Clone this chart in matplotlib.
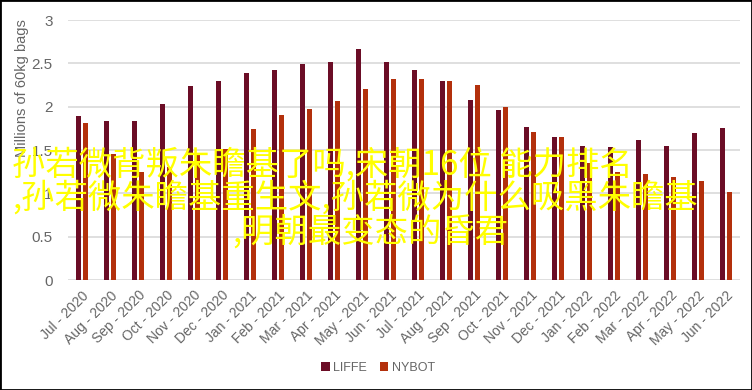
import matplotlib
matplotlib.use("Agg")
import matplotlib.pyplot as plt
import numpy as np
from matplotlib.patches import Rectangle

months = ["Jul - 2020", "Aug - 2020", "Sep - 2020", "Oct - 2020", "Nov - 2020", "Dec - 2020",
          "Jan - 2021", "Feb - 2021", "Mar - 2021", "Apr - 2021", "May - 2021", "Jun - 2021",
          "Jul - 2021", "Aug - 2021", "Sep - 2021", "Oct - 2021", "Nov - 2021", "Dec - 2021",
          "Jan - 2022", "Feb - 2022", "Mar - 2022", "Apr - 2022", "May - 2022", "Jun - 2022"]
liffe = [1.89, 1.84, 1.84, 2.03, 2.24, 2.30, 2.39, 2.42, 2.49, 2.52, 2.66, 2.52,
         2.42, 2.30, 2.08, 1.96, 1.77, 1.65, 1.55, 1.53, 1.62, 1.55, 1.70, 1.75]
nybot = [1.81, 1.45, 1.25, 1.30, 1.45, 1.51, 1.74, 1.90, 1.97, 2.07, 2.20, 2.32,
         2.32, 2.30, 2.25, 2.00, 1.71, 1.65, 1.35, 1.25, 1.22, 1.19, 1.14, 1.02]
yticks = [0, 0.5, 1, 1.5, 2, 2.5, 3]
overlay_lines = ["孙若微背叛朱瞻基了吗,宋朝16位 能力排名",
                 ",孙若微朱瞻基重生文,孙若微为什么吸黑朱瞻基",
                 ",明朝最变态的昏君"]

c_liffe = "#6B0D26"
c_nybot = "#B3300C"
gray = "#666666"
plt.rcParams['font.family'] = ['Liberation Sans', 'DejaVu Sans']

fig = plt.figure(figsize=(7.52, 3.9), dpi=100)
W, H = 752, 390
ax = fig.add_axes([68 / W, 1 - 280 / H, (740 - 68) / W, (280 - 20) / H])

x = np.arange(len(months))
bw = 0.21
ax.bar(x - 0.125, liffe, width=bw, color=c_liffe, label="LIFFE", zorder=3)
ax.bar(x + 0.125, nybot, width=bw, color=c_nybot, label="NYBOT", zorder=3)

ax.set_xlim(-0.5, len(months) - 0.5)
ax.set_ylim(0, 3)
ax.set_yticks(yticks)
ax.set_yticklabels([f"{v:g}" for v in yticks])
ax.yaxis.grid(True, color="#D9D9D9", linewidth=1.2, zorder=0)
ax.set_axisbelow(True)
for s in ax.spines.values():
    s.set_visible(False)
ax.tick_params(axis="both", length=0, colors=gray)
ax.tick_params(axis="y", pad=11, labelsize=11)
ax.set_xticks(x)
ax.set_xticklabels(months, rotation=45, ha="right", rotation_mode="anchor", fontsize=10, color=gray)
ax.tick_params(axis="x", pad=6)

fig.text(22 / W, 1 - 88 / H, "Millions of 60kg bags", rotation=90, va="center", ha="center",
         fontsize=10.5, color=gray)

# legend
leg = fig.legend(loc="center", bbox_to_anchor=(378 / W, 1 - 368 / H), ncol=2, frameon=False,
                 fontsize=9, handlelength=0.7, handleheight=0.7, handletextpad=0.3, columnspacing=1.0)
for t in leg.get_texts():
    t.set_color(gray)

# overlay text
ys = [165, 198, 232]
xs = [12, 12, 232]
for line, yy, xx in zip(overlay_lines, ys, xs):
    fig.text(xx / W, 1 - yy / H, line, fontsize=24, color="#FFFF00", va="center", ha="left",
             family=["Noto Sans CJK SC", "DejaVu Sans"], weight="medium", zorder=10)

fig.patches.append(Rectangle((0, 0), 1, 1, transform=fig.transFigure, fill=False,
                             edgecolor="black", linewidth=2, zorder=20))
fig.savefig("out.png", dpi=100)
